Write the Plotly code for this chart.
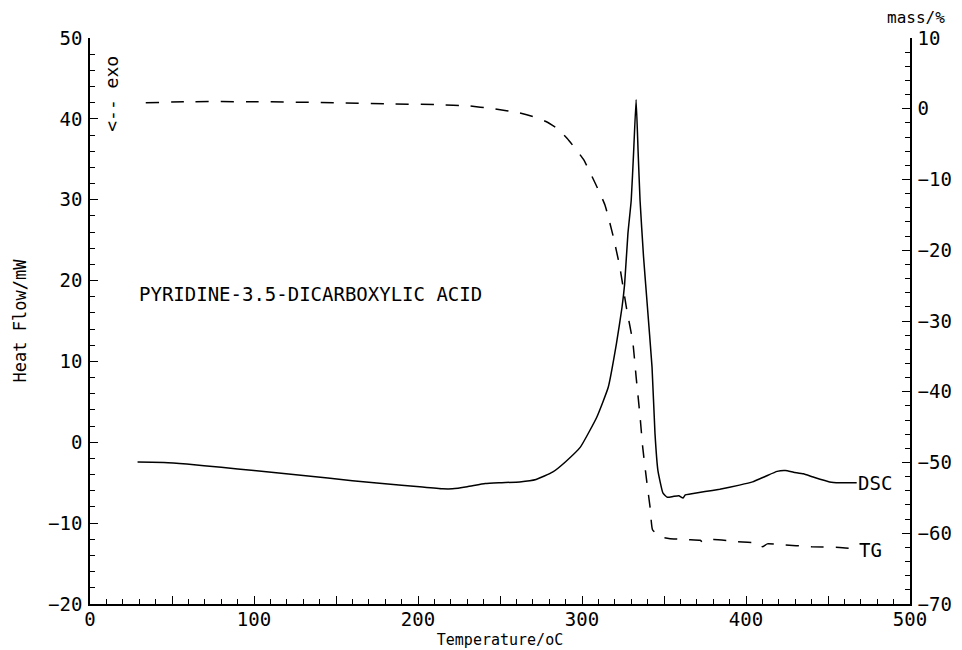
import plotly.graph_objects as go

# DSC curve (Heat Flow / mW, left axis)
dsc_temp = [29, 45, 59, 80, 100, 130, 160, 190, 201, 215, 221, 230, 241, 250, 262, 272,
            282, 290, 299, 309, 316, 321, 324.4, 326, 328, 330, 331.5, 333, 334.2, 335.4,
            337.5, 339.6, 342.7, 344.5, 346.3, 349.4, 352, 355.5, 359, 361.6, 363, 366,
            375, 384, 396, 404, 412, 419, 424, 429, 435, 441, 451, 457, 467.5]
dsc_flow = [-2.45, -2.5, -2.7, -3.1, -3.5, -4.1, -4.75, -5.3, -5.5, -5.75, -5.75, -5.5,
            -5.1, -5.0, -4.9, -4.6, -3.7, -2.4, -0.6, 3.1, 6.8, 12.2, 16.7, 19.6, 25.8,
            29.9, 36.0, 42.4, 36.0, 29.9, 23.0, 17.5, 9.3, 1.1, -3.5, -6.3, -6.8, -6.7,
            -6.6, -6.9, -6.5, -6.4, -6.1, -5.8, -5.3, -4.9, -4.2, -3.6, -3.5, -3.7, -3.9,
            -4.3, -4.9, -5.0, -5.0]

# TG curve (mass / %, right axis)
tg_temp = [34, 60, 100, 150, 181, 213, 230, 246, 262, 270, 278, 285, 291, 301, 308, 314,
           319, 323, 327, 331, 333, 335.4, 337, 339.6, 341.5, 343, 347.6, 352, 356, 365,
           372, 374, 380, 395, 408, 410, 413, 421, 440, 457, 466]
tg_mass = [0.85, 1.0, 1.0, 0.85, 0.7, 0.57, 0.42, 0.0, -0.6, -1.1, -1.8, -2.8, -4.2, -7.2,
           -10.5, -13.6, -18.0, -22.3, -28.0, -33.0, -37.9, -43.5, -47.8, -52.9, -56.3,
           -59.5, -60.5, -60.7, -60.8, -60.9, -61.0, -61.3, -60.9, -61.2, -61.4, -61.9,
           -61.5, -61.6, -61.9, -62.0, -62.2]

x_major = [0, 50, 100, 150, 200, 250, 300, 350, 400, 450, 500]
x_labels = ["0", "", "100", "", "200", "", "300", "", "400", "", "500"]

FONT = "DejaVu Sans Mono"

fig = go.Figure()
fig.add_trace(go.Scatter(x=dsc_temp, y=dsc_flow, mode="lines", name="DSC",
                         line=dict(color="black", width=1.5, shape="spline", smoothing=0.4),
                         yaxis="y"))
fig.add_trace(go.Scatter(x=tg_temp, y=tg_mass, mode="lines", name="TG",
                         line=dict(color="black", width=1.5, dash="13px,12px",
                                   shape="spline", smoothing=0.4),
                         yaxis="y2"))

tickstyle = dict(ticks="inside", ticklen=8, tickwidth=1, tickcolor="black",
                 showline=True, linecolor="black", linewidth=1.5, automargin=False,
                 showgrid=False, zeroline=False,
                 tickfont=dict(family=FONT, size=19, color="black"))

# the page body has an 8px margin, so the figure is 8px smaller than the window
fig.update_layout(
    width=954, height=642,
    margin=dict(l=82, r=52, t=30, b=46, autoexpand=False),
    paper_bgcolor="white", plot_bgcolor="white",
    showlegend=False,
    font=dict(family=FONT, color="black"),
    xaxis=dict(range=[0, 500], tickmode="array", tickvals=x_major, ticktext=x_labels,
               minor=dict(ticks="inside", ticklen=5, tick0=0, dtick=10, tickcolor="black"),
               title=dict(text="Temperature/oC", font=dict(family=FONT, size=15), standoff=6),
               ticklabelstandoff=-3, **tickstyle),
    yaxis=dict(range=[-20, 50], dtick=10,
               minor=dict(ticks="inside", ticklen=5, tick0=0, dtick=2, tickcolor="black"),
               title=dict(text="Heat Flow/mW", font=dict(family=FONT, size=17), standoff=17),
               ticklabelstandoff=2, **tickstyle),
    yaxis2=dict(range=[-70, 10], dtick=10, overlaying="y", side="right",
                minor=dict(ticks="inside", ticklen=5, tick0=0, dtick=2, tickcolor="black"),
                ticklabelstandoff=2, **tickstyle),
)

fig.add_annotation(x=28.7, y=18.4, xref="x", yref="y", text="PYRIDINE-3.5-DICARBOXYLIC ACID",
                   showarrow=False, xanchor="left", yanchor="middle",
                   font=dict(family=FONT, size=19, color="black"))
fig.add_annotation(x=467.5, y=-5.0, xref="x", yref="y", text="DSC", showarrow=False,
                   xanchor="left", yanchor="middle", borderpad=0,
                   font=dict(family=FONT, size=19, color="black"))
fig.add_annotation(x=468, y=-62.4, xref="x", yref="y2", text="TG", showarrow=False,
                   xanchor="left", yanchor="middle", borderpad=0,
                   font=dict(family=FONT, size=19, color="black"))
fig.add_annotation(x=13.4, y=43.1, xref="x", yref="y", text="<-- exo", showarrow=False,
                   textangle=-90, xanchor="center", yanchor="middle",
                   font=dict(family=FONT, size=18, color="black"))
fig.add_annotation(x=(878 - 82) / 820, y=(596 - 10) / 566, xref="paper", yref="paper",
                   text="mass/%", showarrow=False, xanchor="left", yanchor="middle",
                   borderpad=0, font=dict(family=FONT, size=16, color="black"))

fig.write_html("out.html")
